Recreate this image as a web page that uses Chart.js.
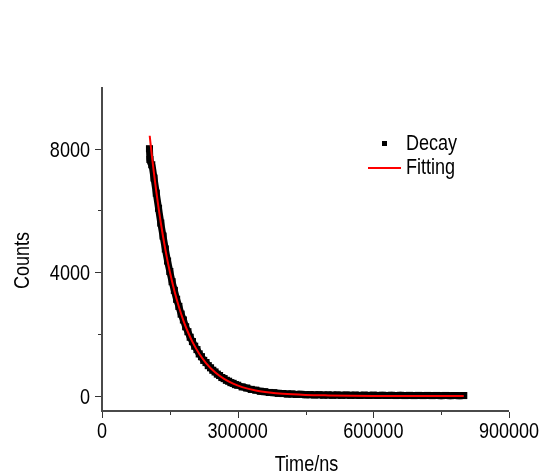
<!DOCTYPE html>
<html><head><meta charset="utf-8">
<script src="https://cdn.jsdelivr.net/npm/chart.js@4/dist/chart.umd.min.js"></script>
<style>html,body{margin:0;padding:0;background:#fff}canvas{display:block}</style>
</head><body>
<canvas id="c" width="545" height="475"></canvas>
<script>
// ---- data ----
const decayTime = [105000,106000,110000,115000,120000,125000,130000,135000,140000,145000,150000,155000,160000,165000,170000,175000,180000,185000,190000,195000,200000,205000,210000,215000,220000,225000,230000,235000,240000,245000,250000,255000,260000,265000,270000,275000,280000,285000,290000,295000,300000,310000,320000,330000,340000,350000,360000,370000,380000,390000,400000,410000,420000,430000,440000,450000,460000,470000,480000,490000,500000,510000,520000,530000,540000,550000,560000,570000,580000,590000,600000,610000,620000,630000,640000,650000,660000,670000,680000,690000,700000,710000,720000,730000,740000,750000,760000,770000,780000,790000,800000];
const decayCounts = [8000,7650,7480,7050,6560,6070,5590,5170,4750,4360,4020,3690,3410,3120,2890,2640,2450,2230,2070,1890,1750,1600,1490,1350,1260,1140,1070,970,900,820,765,695,650,585,550,495,465,420,395,355,335,280,245,200,175,140,125,100,92,72,66,52,50,38,40,28,30,22,25,15,20,12,18,10,16,8,14,6,12,5,10,4,9,3,8,2,7,1,6,0,5,0,4,-1,3,-2,3,-2,2,-3,1];
const fitTime = [105500,110000,115000,120000,125000,130000,140000,150000,160000,170000,180000,190000,200000,215000,230000,250000,270000,290000,310000,340000,370000,400000,450000,500000,550000,600000,700000,800000];
const fitCounts = [8420,7810,7190,6620,6090,5600,4740,4010,3400,2880,2430,2060,1740,1355,1055,755,540,385,275,165,100,58,22,5,-5,-10,-15,-15];
const xTickValues = [0,150000,300000,450000,600000,750000,900000];
const xTickLabels = ['0','','300000','','600000','','900000'];
const yTickValues = [0,2000,4000,6000,8000];
const yTickLabels = ['0','','4000','','8000'];
const seriesNames = ['Decay','Fitting'];
const xTitle = 'Time/ns';
const yTitle = 'Counts';

const FONT = '22px "Liberation Sans", Arial, sans-serif';
const NARROW = 0.82;

function narrowText(ctx, str, x, y, align, baseline, rot) {
  ctx.save();
  ctx.translate(x, y);
  if (rot) ctx.rotate(rot);
  ctx.scale(NARROW, 1);
  ctx.font = FONT;
  ctx.fillStyle = '#000';
  ctx.textAlign = align;
  ctx.textBaseline = baseline;
  ctx.fillText(str, 0, 0);
  ctx.restore();
}

const decor = {
  id: 'decor',
  afterDraw(chart) {
    const ctx = chart.ctx, a = chart.chartArea;
    const xs = chart.scales.x, ys = chart.scales.y;
    ctx.save();
    // axes lines
    ctx.strokeStyle = '#4a4a4a'; ctx.lineWidth = 2;
    ctx.beginPath();
    ctx.moveTo(a.left, a.top); ctx.lineTo(a.left, a.bottom + 1);
    ctx.moveTo(a.left - 1, a.bottom); ctx.lineTo(a.right, a.bottom);
    ctx.stroke();
    // tick marks
    ctx.strokeStyle = '#333'; ctx.lineWidth = 1;
    ctx.beginPath();
    yTickValues.forEach((v, i) => {
      const y = Math.round(ys.getPixelForValue(v)) + 0.5;
      const len = yTickLabels[i] ? 6 : 3;
      ctx.moveTo(a.left - 1, y); ctx.lineTo(a.left - 1 - len, y);
    });
    xTickValues.forEach((v, i) => {
      const x = Math.round(xs.getPixelForValue(v)) + 0.5;
      const len = xTickLabels[i] ? 6 : 3;
      ctx.moveTo(x, a.bottom + 1); ctx.lineTo(x, a.bottom + 1 + len);
    });
    ctx.stroke();
    // tick labels
    yTickValues.forEach((v, i) => {
      if (yTickLabels[i]) narrowText(ctx, yTickLabels[i], a.left - 12, ys.getPixelForValue(v) + 8, 'right', 'alphabetic');
    });
    xTickValues.forEach((v, i) => {
      if (xTickLabels[i]) narrowText(ctx, xTickLabels[i], xs.getPixelForValue(v), 438, 'center', 'alphabetic');
    });
    // axis titles
    narrowText(ctx, xTitle, (a.left + a.right) / 2 + 1, 471, 'center', 'alphabetic');
    narrowText(ctx, yTitle, 28.5, 260.5, 'center', 'alphabetic', -Math.PI / 2);
    // legend
    ctx.fillStyle = '#000';
    ctx.fillRect(382, 141, 5, 5);
    narrowText(ctx, seriesNames[0], 406, 150, 'left', 'alphabetic');
    ctx.strokeStyle = '#ff0000'; ctx.lineWidth = 2;
    ctx.beginPath(); ctx.moveTo(368, 168); ctx.lineTo(401, 168); ctx.stroke();
    narrowText(ctx, seriesNames[1], 406, 174, 'left', 'alphabetic');
    ctx.restore();
  }
};

new Chart(document.getElementById('c'), {
  type: 'line',
  data: {
    datasets: [
      {
        label: seriesNames[1],
        data: fitTime.map((t, i) => ({ x: t, y: fitCounts[i] })),
        borderColor: '#ff0000', borderWidth: 2, pointRadius: 0,
        cubicInterpolationMode: 'monotone', fill: false, order: 0
      },
      {
        label: seriesNames[0],
        data: decayTime.map((t, i) => ({ x: t, y: decayCounts[i] })),
        borderColor: '#000', backgroundColor: '#000', borderWidth: 7,
        borderCapStyle: 'butt', borderJoinStyle: 'round',
        cubicInterpolationMode: 'monotone',
        pointStyle: 'rect', pointRadius: 5, pointBorderWidth: 0,
        pointBackgroundColor: '#000', fill: false, order: 1
      }
    ]
  },
  options: {
    responsive: false, animation: false, devicePixelRatio: 1,
    layout: { padding: { top: 87, right: 36, left: 0, bottom: 0 } },
    plugins: { legend: { display: false }, tooltip: { enabled: false } },
    scales: {
      x: {
        type: 'linear', min: 0, max: 900000,
        afterFit(s) { s.height = 64; },
        afterBuildTicks(s) { s.ticks = xTickValues.map(v => ({ value: v })); },
        grid: { display: false }, border: { display: false },
        ticks: { display: false }
      },
      y: {
        type: 'linear', min: -500, max: 10000,
        afterFit(s) { s.width = 102; },
        afterBuildTicks(s) { s.ticks = yTickValues.map(v => ({ value: v })); },
        grid: { display: false }, border: { display: false },
        ticks: { display: false }
      }
    }
  },
  plugins: [decor]
});
</script>
</body></html>
